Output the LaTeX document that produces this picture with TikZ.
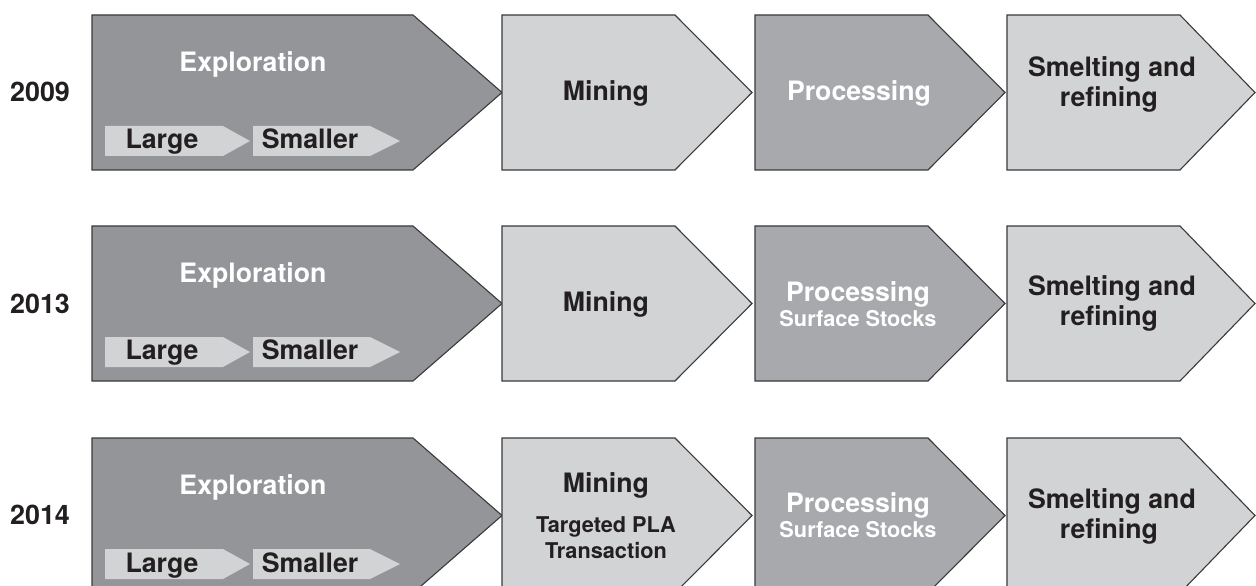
\documentclass[tikz,border=0pt]{standalone}
\usepackage{fontspec}
\setmainfont{TeX Gyre Heros}
\definecolor{darkA}{HTML}{939598}
\definecolor{darkB}{HTML}{A7A9AC}
\definecolor{lightC}{HTML}{D1D3D4}
\definecolor{edgeC}{HTML}{3A3A3C}
\definecolor{inkC}{HTML}{231F20}
\newcommand\chevron[5]{%
  \draw[#5] (#1,#4) -- (#2,#4) -- (#3,#4+77.5) -- (#2,#4+155) -- (#1,#4+155) -- cycle;}
\newcommand\minichev[4]{%
  \fill[lightC] (#1,#4+111) -- (#2,#4+111) -- (#3,#4+126) -- (#2,#4+141) -- (#1,#4+141) -- cycle;}
\begin{document}
\begin{tikzpicture}[x=1bp,y=-1bp,
  stage/.style={draw=edgeC,line width=1.1bp,line join=miter},
  bigtxt/.style={font=\fontsize{26.8}{30}\selectfont\bfseries,anchor=base,inner sep=0pt},
  smalltxt/.style={font=\fontsize{21.8}{25}\selectfont\bfseries,anchor=base,inner sep=0pt},
  yeartxt/.style={font=\fontsize{27}{30}\selectfont\bfseries,anchor=base,inner sep=0pt,text=inkC},
]
\useasboundingbox (0,0) rectangle (1256,586);
\clip (0,0) rectangle (1256,586);
% ---------- Row 2009 ----------
\chevron{92}{413}{502}{15}{stage,fill=darkA}
\chevron{502}{675}{752}{15}{stage,fill=lightC}
\chevron{755}{928}{1005}{15}{stage,fill=darkB}
\chevron{1007}{1180}{1255}{15}{stage,fill=lightC}
\minichev{105}{223}{250}{15}
\minichev{253}{370}{400}{15}
\node[yeartxt] (y1) at (40,102) {2009};
\node[bigtxt,text=white] (e1) at (253,72) {Exploration};
\node[bigtxt,text=inkC] (l1) at (162,149) {Large};
\node[bigtxt,text=inkC] (s1) at (310,149) {Smaller};
\node[bigtxt,text=inkC] (m1) at (606,101) {Mining};
\node[bigtxt,text=white] (p1) at (859,101) {Processing};
\node[bigtxt,text=inkC] (r1a) at (1112,77) {Smelting and};
\node[bigtxt,text=inkC] (r1b) at (1109,107) {refining};
% ---------- Row 2013 ----------
\chevron{92}{413}{502}{226}{stage,fill=darkA}
\chevron{502}{675}{752}{226}{stage,fill=lightC}
\chevron{755}{928}{1005}{226}{stage,fill=darkB}
\chevron{1007}{1180}{1255}{226}{stage,fill=lightC}
\minichev{105}{223}{250}{226}
\minichev{253}{370}{400}{226}
\node[yeartxt] (y2) at (40,314) {2013};
\node[bigtxt,text=white] (e2) at (253,283) {Exploration};
\node[bigtxt,text=inkC] (l2) at (162,360) {Large};
\node[bigtxt,text=inkC] (s2) at (310,360) {Smaller};
\node[bigtxt,text=inkC] (m2) at (606,312) {Mining};
\node[bigtxt,text=white] (p2) at (858,302) {Processing};
\node[smalltxt,text=white] (q2) at (858,327) {Surface Stocks};
\node[bigtxt,text=inkC] (r2a) at (1112,296) {Smelting and};
\node[bigtxt,text=inkC] (r2b) at (1109,326) {refining};
% ---------- Row 2014 ----------
\chevron{92}{413}{502}{438}{stage,fill=darkA}
\chevron{502}{675}{752}{438}{stage,fill=lightC}
\chevron{755}{928}{1005}{438}{stage,fill=darkB}
\chevron{1007}{1180}{1255}{438}{stage,fill=lightC}
\minichev{105}{223}{250}{438}
\minichev{253}{370}{400}{438}
\node[yeartxt] (y3) at (40,524) {2014};
\node[bigtxt,text=white] (e3) at (253,494) {Exploration};
\node[bigtxt,text=inkC] (l3) at (162,572) {Large};
\node[bigtxt,text=inkC] (s3) at (310,572) {Smaller};
\node[bigtxt,text=inkC] (m3) at (606,492) {Mining};
\node[smalltxt,text=inkC] (t3a) at (606,532) {Targeted PLA};
\node[smalltxt,text=inkC] (t3b) at (606,558) {Transaction};
\node[bigtxt,text=white] (p3) at (858,512) {Processing};
\node[smalltxt,text=white] (q3) at (858,537) {Surface Stocks};
\node[bigtxt,text=inkC] (r3a) at (1112,508) {Smelting and};
\node[bigtxt,text=inkC] (r3b) at (1109,538) {refining};
\end{tikzpicture}
\end{document}
